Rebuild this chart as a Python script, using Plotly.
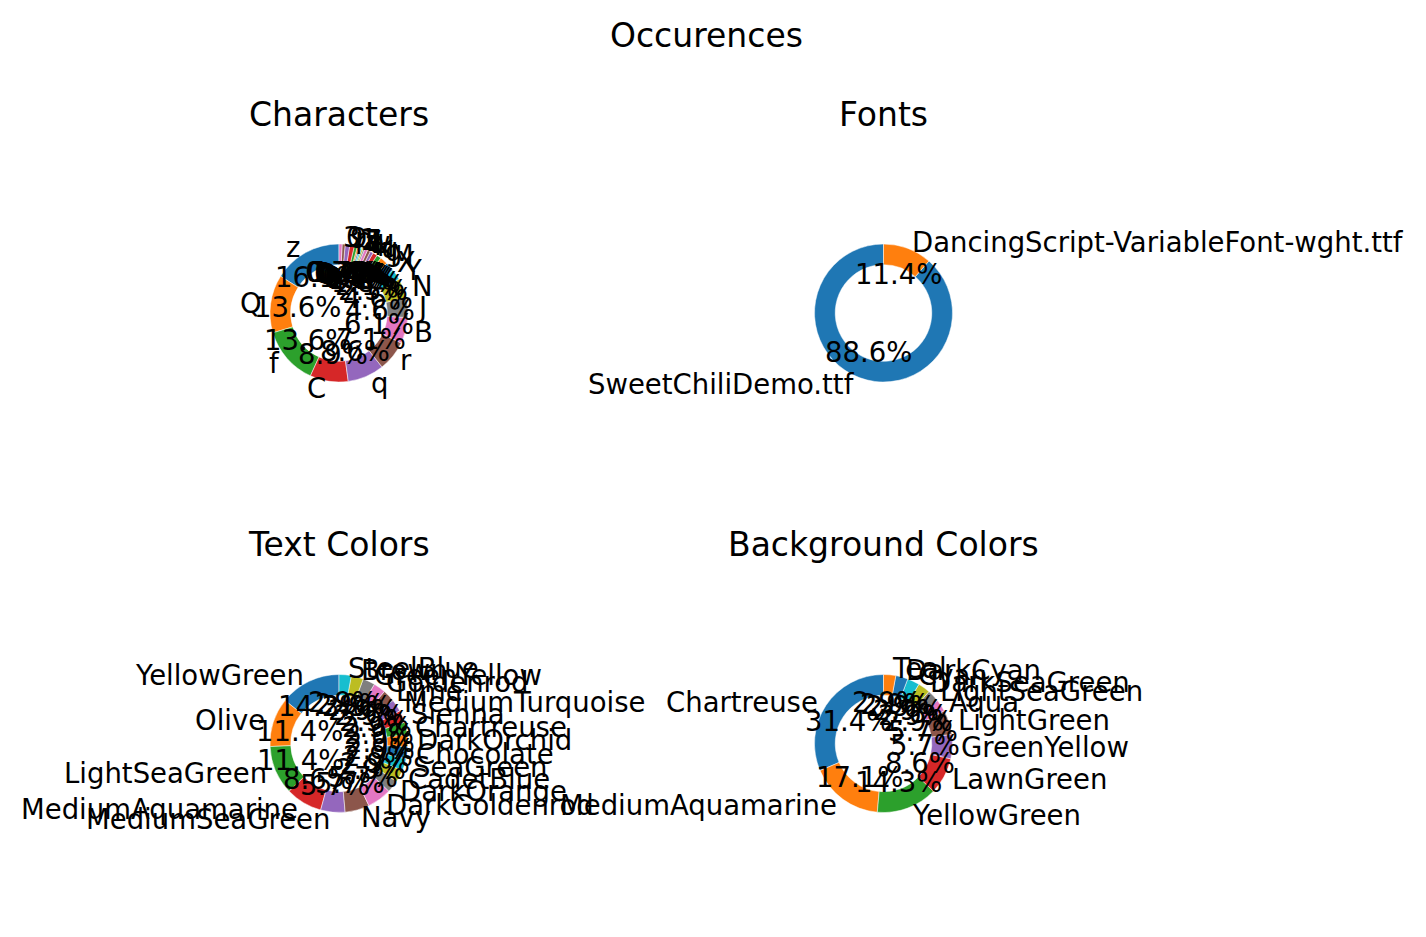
import math
import plotly.graph_objects as go

W, H = 1426, 937

# ---------------- data ----------------
char_labels = ["z", "Q", "f", "C", "q", "r", "B", "J", "N", "Y", "X", "M",
               "g", "u", "k", "H", "L", "w", "e", "7", "a", "Z", "1", "p", "9", "0", "3"]
char_values = [45, 38, 38, 25, 24, 20, 17, 13, 13, 7, 6, 5,
               3, 3, 2, 2, 2, 1, 1, 1, 1, 1, 2, 3, 3, 2, 2]

font_labels = ["SweetChiliDemo.ttf", "DancingScript-VariableFont-wght.ttf"]
font_values = [31, 4]

text_labels = ["YellowGreen", "Olive", "LightSeaGreen", "MediumAquamarine", "MediumSeaGreen",
               "Navy", "DarkGoldenrod", "DarkOrange", "CadetBlue", "SeaGreen", "Chocolate",
               "DarkOrchid", "Chartreuse", "Sienna", "MediumTurquoise", "Lime", "Goldenrod",
               "GreenYellow", "Brown", "SteelBlue"]
text_values = [5, 4, 4, 3, 2, 2, 2, 1, 1, 1, 1, 1, 1, 1, 1, 1, 1, 1, 1, 1]

bg_labels = ["Chartreuse", "MediumAquamarine", "YellowGreen", "LawnGreen", "GreenYellow",
             "LightGreen", "Aqua", "LightSeaGreen", "DarkSeaGreen", "Cyan", "DarkCyan", "Teal"]
bg_values = [11, 6, 5, 3, 2, 2, 1, 1, 1, 1, 1, 1]

titles = ["Characters", "Fonts", "Text Colors", "Background Colors"]
suptitle = "Occurences"

# ---------------- style / layout ----------------
TAB10 = ["#1f77b4", "#ff7f0e", "#2ca02c", "#d62728", "#9467bd",
         "#8c564b", "#e377c2", "#7f7f7f", "#bcbd22", "#17becf"]
FONT = "DejaVu Sans"
LABEL_SIZE = 27.5
TITLE_SIZE = 33
R = 69
centers = [(339, 313), (883.5, 313), (339, 743.5), (883.5, 743.5)]
title_y = [115, 115, 545, 545]

datasets = [(char_labels, char_values), (font_labels, font_values),
            (text_labels, text_values), (bg_labels, bg_values)]

fig = go.Figure()
annotations = []

for (labels, values), (cx, cy), title, ty in zip(datasets, centers, titles, title_y):
    colors = [TAB10[i % 10] for i in range(len(values))]
    total = float(sum(values))
    # plotly's counterclockwise pies put the first slice right of 12 o'clock;
    # rotate so the first slice starts at 12 o'clock and runs counterclockwise
    rot = -360.0 * values[0] / total
    if rot < -180:
        rot += 360
    fig.add_trace(go.Pie(
        labels=labels, values=values, hole=0.7, sort=False,
        direction="counterclockwise", rotation=rot,
        marker=dict(colors=colors, line=dict(color="white", width=0.5)),
        textinfo="none", showlegend=False,
        domain=dict(x=[(cx - R) / W, (cx + R) / W],
                    y=[(H - cy - R) / H, (H - cy + R) / H]),
    ))
    cum = 0.0
    for lab, v in zip(labels, values):
        theta = math.radians(90 + 360.0 * (cum + v / 2.0) / total)
        cum += v
        c, s = math.cos(theta), math.sin(theta)
        # outside label at 1.1 R
        lx = cx + 1.1 * R * c
        ly = cy - 1.1 * R * s
        annotations.append(dict(
            x=lx / W, y=(H - ly) / H, xref="paper", yref="paper",
            text=lab, showarrow=False, xanchor="left" if c > 0 else "right",
            yanchor="middle", font=dict(family=FONT, size=LABEL_SIZE, color="black")))
        # percentage at 0.6 R
        px = cx + 0.6 * R * c
        py = cy - 0.6 * R * s
        annotations.append(dict(
            x=px / W, y=(H - py) / H, xref="paper", yref="paper",
            text=f"{100.0 * v / total:.1f}%", showarrow=False,
            xanchor="center", yanchor="middle",
            font=dict(family=FONT, size=LABEL_SIZE, color="black")))
    annotations.append(dict(
        x=cx / W, y=(H - ty) / H, xref="paper", yref="paper", text=title,
        showarrow=False, xanchor="center", yanchor="middle",
        font=dict(family=FONT, size=TITLE_SIZE, color="black")))

annotations.append(dict(
    x=706.5 / W, y=(H - 35.5) / H, xref="paper", yref="paper", text=suptitle,
    showarrow=False, xanchor="center", yanchor="middle",
    font=dict(family=FONT, size=TITLE_SIZE, color="black")))

fig.update_layout(
    width=W, height=H, margin=dict(l=0, r=0, t=0, b=0),
    paper_bgcolor="white", plot_bgcolor="white",
    showlegend=False, annotations=annotations,
    font=dict(family=FONT),
)

fig.write_html("out.html")
